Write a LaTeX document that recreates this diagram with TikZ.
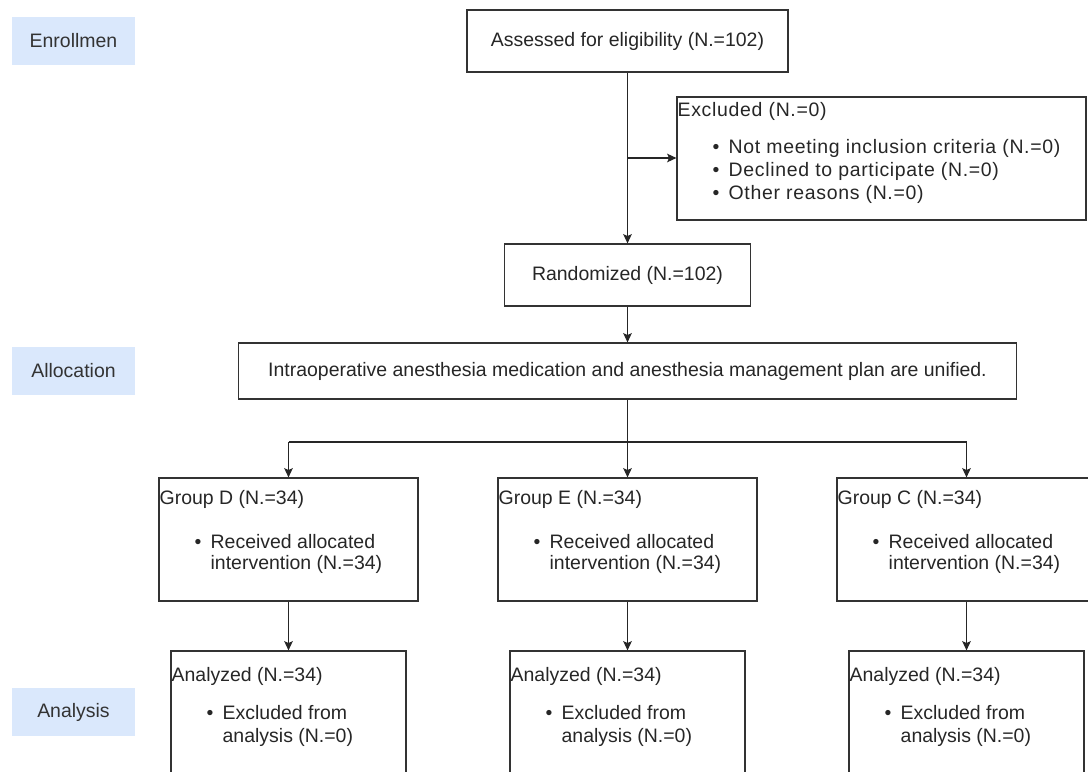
\documentclass[tikz,border=0pt]{standalone}
\usepackage{fontspec}
\setmainfont{Liberation Sans}
\usetikzlibrary{positioning,arrows.meta}

\definecolor{phaseblue}{HTML}{DAE8FC}
\newcommand{\bitem}{\hspace*{38.25pt}\llap{\textbullet\hspace{7pt}}}
\newcommand{\bcont}{\hspace*{38.25pt}}
\newcommand{\spaced}{\addfontfeature{LetterSpace=3.5}}

\tikzset{
  box/.style={draw=black!80, line width=0.9pt, inner sep=0pt},
  phase/.style={fill=phaseblue, text=black!80, inner sep=0pt,
    minimum width=92.25pt, minimum height=36pt},
  txt/.style={anchor=base west, align=left, inner sep=0pt, text=black!85},
  flow/.style={draw=black!85, line width=0.9pt,
    -{Stealth[length=7pt,width=6.5pt,inset=1.5pt]}},
}

\begin{document}
\begin{tikzpicture}[x=0.75pt, y=-0.75pt,
    font=\fontsize{14.6pt}{15.75pt}\selectfont]
  \clip (0,0) rectangle (1088,771);

  % phases
  \node[phase] (enroll) at (73.5,41)  {Enrollmen};
  \node[phase] (alloc)  at (73.5,371) {Allocation};
  \node[phase] (anal)   at (73.5,712) {Analysis};

  % enrollment
  \node[box, minimum width=240.75pt, minimum height=46.5pt, text=black!85]
    (assess) at (627.5,41) {Assessed for eligibility (N.=102)};
  \node[box, minimum width=306.75pt, minimum height=92.25pt]
    (excl) at (881.5,158.5) {};
  % base of a multi-line node is its last line
  \node[txt, font=\fontsize{14.6pt}{17.25pt}\selectfont\spaced]
    (excltxt) at ([shift={(1,103)}]excl.north west)
    {Excluded (N.=0)\\[10.5pt]
     \bitem Not meeting inclusion criteria (N.=0)\\
     \bitem Declined to participate (N.=0)\\
     \bitem Other reasons (N.=0)};
  \node[box, minimum width=184.5pt, minimum height=46.5pt, text=black!85]
    (rand) at (627.5,275) {Randomized (N.=102)};
  \coordinate (split) at (627.5,158);

  % allocation
  \node[box, minimum width=583.5pt, minimum height=42pt, text=black!85]
    (plan) at (627.5,371) {Intraoperative anesthesia medication and anesthesia management plan are unified.};
  \coordinate (fork) at (627.5,442);

  % three groups, then analysis
  \foreach \g/\x in {D/288.5, E/627.5, C/966.5} {
    \node[box, minimum width=194.25pt, minimum height=92.25pt]
      (grp\g) at (\x,539.5) {};
    \node[txt] (grptxt\g) at ([shift={(1,92)}]grp\g.north west)
      {Group \g\ (N.=34)\\[17.25pt]
       \bitem Received allocated\\
       \bcont intervention (N.=34)};
    \node[box, minimum width=176.25pt, minimum height=92.25pt]
      (ana\g) at (\x,712.5) {};
    \node[txt, font=\fontsize{14.6pt}{17.25pt}\selectfont]
      (anatxt\g) at ([shift={(1,92)}]ana\g.north west)
      {Analyzed (N.=34)\\[11.25pt]
       \bitem Excluded from\\
       \bcont analysis (N.=0)};
    \coordinate (fork\g) at (\x,442);
    \draw[flow] (grp\g) -- (ana\g);
  }

  % connectors
  \draw[flow] (assess) -- (rand);
  \draw[flow] (split) -- (excl.west |- split);
  \draw[flow] (rand) -- (plan);
  \draw[line width=0.9pt, draw=black!85] (plan.south) -- (fork)
    (forkD) -- (forkC);
  \draw[flow] (forkD) -- (grpD.north);
  \draw[flow] (fork) -- (grpE.north);
  \draw[flow] (forkC) -- (grpC.north);
\end{tikzpicture}
\end{document}
